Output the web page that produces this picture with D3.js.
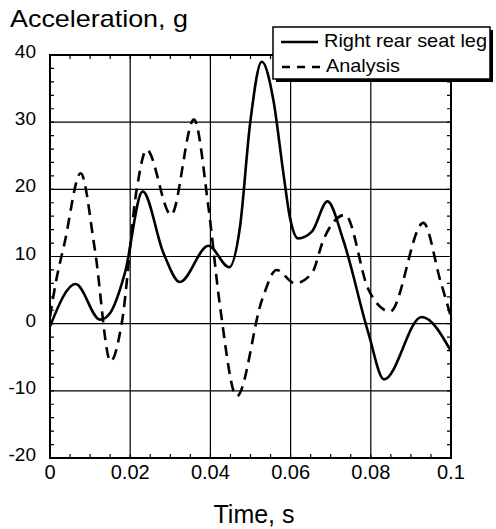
<!DOCTYPE html>
<html><head><meta charset="utf-8">
<script src="https://cdn.jsdelivr.net/npm/d3@7"></script>
<style>body{margin:0;background:#fff}svg{display:block}text{font-family:"Liberation Sans",Arial,sans-serif;fill:#000}</style>
</head><body>
<svg id="c" width="496" height="529"></svg>
<script>
// Data
const seatT = [0,0.0064,0.0125,0.015,0.0187,0.0231,0.0283,0.0324,0.0395,0.0447,0.0474,0.0499,0.0528,0.0557,0.0582,0.0598,0.0619,0.0653,0.0692,0.0731,0.0794,0.0833,0.0927,0.1];
const seatY = [-0.4,5.9,0.6,1.6,7.6,19.7,10.5,6.2,11.6,8.4,14.5,29.8,39.0,33.3,22.4,15.9,12.7,13.7,18.2,12.5,-1.4,-8.3,1.0,-4.1];
const anaT = [0,0.00125,0.0037,0.00765,0.0112,0.0151,0.0179,0.0216,0.0241,0.0302,0.0359,0.0395,0.0424,0.0466,0.0529,0.0565,0.0611,0.0653,0.0682,0.0736,0.0794,0.0848,0.0931,0.0973,0.1];
const anaY = [1.0,5.5,12.2,22.4,11,-5.6,0.1,19.9,25.9,16.2,30.4,17.4,2.6,-10.8,3.6,8.0,6.0,7.5,12.5,16.2,5.1,1.8,15.0,6.5,1.0];
const xTicks = [0,0.02,0.04,0.06,0.08,0.1];
const xTickLabels = ["0","0.02","0.04","0.06","0.08","0.1"];
const yTicks = [-20,-10,0,10,20,30,40];
const seriesNames = ["Right rear seat leg","Analysis"];

const svg = d3.select("#c");
const L=50,R=451,T=55,B=458;
const x = d3.scaleLinear().domain([0,0.1]).range([L,R]);
const y = d3.scaleLinear().domain([-20,40]).range([B,T]);

// grid
const g = svg.append("g");
g.selectAll(".vg").data(xTicks.slice(1,-1)).join("line")
 .attr("x1",d=>x(d)).attr("x2",d=>x(d)).attr("y1",T).attr("y2",B)
 .attr("stroke","#000").attr("stroke-width",1.2);
g.selectAll(".hg").data(yTicks.slice(1,-1)).join("line")
 .attr("y1",d=>y(d)).attr("y2",d=>y(d)).attr("x1",L).attr("x2",R)
 .attr("stroke","#000").attr("stroke-width",1.2);

// minor ticks
const xMinor = d3.range(0,0.1001,0.005);
const yMinor = d3.range(-20,40.01,2);
const tl=4;
g.selectAll(".xm").data(xMinor).join("path")
 .attr("d",d=>`M${x(d)},${B}v${-tl}M${x(d)},${T}v${tl}`).attr("stroke","#000").attr("stroke-width",1.2);
g.selectAll(".ym").data(yMinor).join("path")
 .attr("d",d=>`M${L},${y(d)}h${tl}M${R},${y(d)}h${-tl}`).attr("stroke","#000").attr("stroke-width",1.2);

// frame
svg.append("rect").attr("x",L).attr("y",T).attr("width",R-L).attr("height",B-T)
 .attr("fill","none").attr("stroke","#000").attr("stroke-width",2);

// clip
svg.append("clipPath").attr("id","pc").append("rect").attr("x",L).attr("y",T-2).attr("width",R-L).attr("height",B-T+4);

const line = d3.line().x(d=>x(d[0])).y(d=>y(d[1])).curve(d3.curveMonotoneX);
const seat = seatT.map((t,i)=>[t,seatY[i]]);
const ana = anaT.map((t,i)=>[t,anaY[i]]);
svg.append("path").attr("clip-path","url(#pc)").attr("d",line(ana)).attr("fill","none")
 .attr("stroke","#000").attr("stroke-width",2.6).attr("stroke-dasharray","11,7");
svg.append("path").attr("clip-path","url(#pc)").attr("d",line(seat)).attr("fill","none")
 .attr("stroke","#000").attr("stroke-width",2.6).attr("stroke-linejoin","round");

// tick labels
svg.selectAll(".xl").data(xTicks).join("text")
 .attr("x",d=>x(d)).attr("y",479).attr("text-anchor","middle").attr("font-size",20)
 .text((d,i)=>xTickLabels[i]);
svg.selectAll(".yl").data(yTicks).join("text")
 .attr("x",36).attr("y",d=>y(d)+3).attr("text-anchor","end").attr("font-size",19)
 .text(d=>d);

// titles
svg.append("text").attr("x",10).attr("y",27).attr("font-size",24)
 .attr("textLength",178).attr("lengthAdjust","spacingAndGlyphs").text("Acceleration, g");
svg.append("text").attr("x",254).attr("y",523).attr("text-anchor","middle").attr("font-size",25).text("Time, s");

// legend
const lg = svg.append("g");
lg.append("rect").attr("x",276).attr("y",30).attr("width",217).attr("height",52).attr("fill","#000");
lg.append("rect").attr("x",273).attr("y",27).attr("width",217).attr("height",52).attr("fill","#fff")
 .attr("stroke","#000").attr("stroke-width",1.5);
lg.append("line").attr("x1",281).attr("x2",318).attr("y1",42).attr("y2",42).attr("stroke","#000").attr("stroke-width",2.6);
lg.append("line").attr("x1",282).attr("x2",321).attr("y1",67).attr("y2",67).attr("stroke","#000").attr("stroke-width",2.6).attr("stroke-dasharray","8,7");
lg.append("text").attr("x",324).attr("y",47).attr("font-size",19)
 .attr("textLength",163).attr("lengthAdjust","spacingAndGlyphs").text(seriesNames[0]);
lg.append("text").attr("x",326).attr("y",72).attr("font-size",19)
 .attr("textLength",74).attr("lengthAdjust","spacingAndGlyphs").text(seriesNames[1]);
</script>
</body></html>
